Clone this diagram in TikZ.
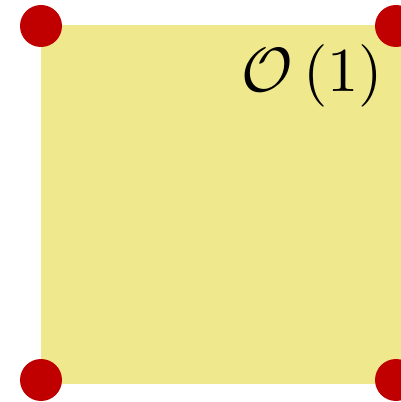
\documentclass[tikz,border=0pt]{standalone}
\usepackage{amsmath,amssymb}
\usepackage{tikz}

\definecolor{cellfill}{RGB}{240,232,140}
\definecolor{cornerred}{RGB}{192,0,0}

\begin{document}
\begin{tikzpicture}[x=1pt, y=1pt, line cap=round, line join=round,
    corner/.style={fill=cornerred}]
  % Frame of the picture (in pixels of the reference).
  \clip (0,0) rectangle (401,402);
  \useasboundingbox (0,0) rectangle (401,402);

  % Corners of the cell.
  \coordinate (SW) at (41,18);
  \coordinate (NE) at (401,377);

  % Cell.
  \fill[cellfill] (SW) rectangle (NE);
  \node[scale=6.25] (order) at (312,326) {$\mathcal{O}\left(1\right)$};

  % Corner points.
  \foreach \px/\py in {41/376, 396/376, 41/22, 396/22} {
    \fill[corner] (\px,\py) circle (21);
  }
\end{tikzpicture}
\end{document}
